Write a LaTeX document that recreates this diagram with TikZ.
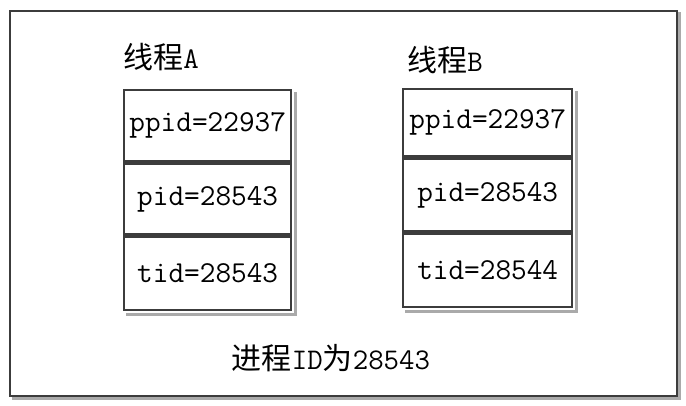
\documentclass[tikz,border=0pt]{standalone}
\usepackage{fontspec}
\newfontfamily\cjk{Noto Sans CJK SC}
\usetikzlibrary{positioning}
\definecolor{sketchgray}{RGB}{60,60,60}
\definecolor{shadowgray}{RGB}{170,170,170}
\tikzset{
  field-cell/.style={draw=sketchgray, line width=1.2pt, minimum width=83.5pt,
    minimum height=35.5pt, inner sep=0pt, font=\ttfamily\fontsize{15.2}{17}\selectfont},
  thread-title/.style={font=\ttfamily\fontsize{15}{17}\selectfont, inner sep=0pt, anchor=south west},
  process-label/.style={font=\ttfamily\fontsize{15}{17}\selectfont, inner sep=0pt},
  frame-line/.style={draw=sketchgray, line width=1pt},
  shadow-line/.style={draw=shadowgray, line width=1.6pt}
}
\begin{document}
\begin{tikzpicture}[x=0.5pt, y=-0.5pt, node distance=0pt]
\useasboundingbox (0,0) rectangle (686,406);
% outer process frame
\draw[shadow-line] (12,398) -- (679,398) -- (679,12);
\draw[frame-line] (10,11) rectangle (677,396);

% thread A
\node[field-cell, anchor=north west] (ppidA) at (123,89) {ppid=22937};
\node[field-cell, below=of ppidA] (pidA) {pid=28543};
\node[field-cell, below=of pidA, minimum height=36.5pt] (tidA) {tid=28543};
\node[thread-title] (titleA) at ([yshift=9pt]ppidA.north west) {{\cjk 线程}A};
\draw[shadow-line] ([xshift=1.5pt, yshift=-1.5pt]tidA.south west) -- ([xshift=1.5pt, yshift=-1.5pt]tidA.south east) -- ([xshift=1.5pt, yshift=-1.5pt]ppidA.north east);

% thread B
\node[field-cell, anchor=north west, minimum width=84.5pt, minimum height=33.5pt] (ppidB) at (402,88) {ppid=22937};
\node[field-cell, below=of ppidB, minimum width=84.5pt, minimum height=36.5pt] (pidB) {pid=28543};
\node[field-cell, below=of pidB, minimum width=84.5pt, minimum height=36.5pt] (tidB) {tid=28544};
\node[thread-title] (titleB) at ([xshift=2.5pt, yshift=7pt]ppidB.north west) {{\cjk 线程}B};
\draw[shadow-line] ([xshift=1.5pt, yshift=-1.5pt]tidB.south west) -- ([xshift=1.5pt, yshift=-1.5pt]tidB.south east) -- ([xshift=1.5pt, yshift=-1.5pt]ppidB.north east);

% process id
\node[process-label] (procid) at (331,358) {{\cjk 进程}ID{\cjk 为}28543};
\end{tikzpicture}
\end{document}
